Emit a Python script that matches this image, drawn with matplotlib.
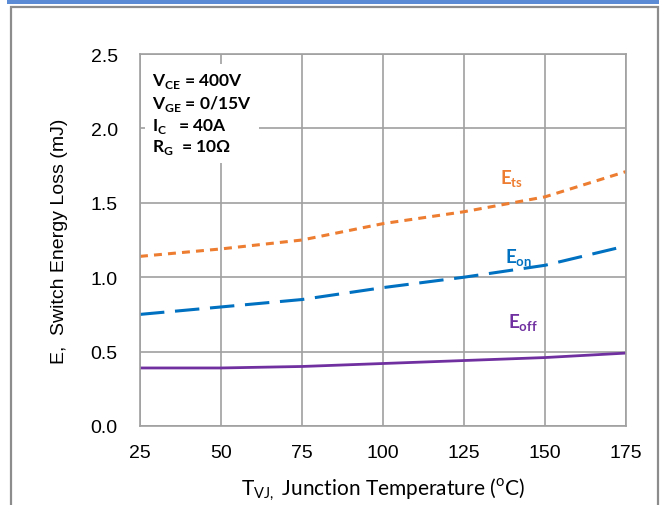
import matplotlib.pyplot as plt
from matplotlib.patches import Rectangle

temps = [25, 50, 75, 100, 125, 150, 175]
e_ts = [1.14, 1.19, 1.25, 1.36, 1.44, 1.54, 1.71]
e_on = [0.75, 0.80, 0.85, 0.93, 1.00, 1.08, 1.21]
e_off = [0.39, 0.39, 0.40, 0.42, 0.44, 0.46, 0.49]

x_ticks = [25, 50, 75, 100, 125, 150, 175]
y_ticks = [0.0, 0.5, 1.0, 1.5, 2.0, 2.5]

plt.rcParams['font.family'] = ['Liberation Sans', 'DejaVu Sans']
plt.rcParams['mathtext.fontset'] = 'custom'
plt.rcParams['mathtext.rm'] = 'Lato'
plt.rcParams['mathtext.bf'] = 'Lato:bold'

fig = plt.figure(figsize=(6.62, 5.06), dpi=100)
ax = fig.add_axes([140 / 662, 79 / 506, 486 / 662, 372 / 506])

# frame around the figure and the blue bar on top
fig.patches.append(Rectangle((11 / 662, -0.01), 647 / 662, 1 - 8 / 506 + 0.01,
                             transform=fig.transFigure, fill=False,
                             edgecolor='#8c8c8c', linewidth=1.6))
fig.patches.append(Rectangle((7 / 662, 1 - 5 / 506), 652 / 662, 5 / 506,
                             transform=fig.transFigure, facecolor='#5b8bd5',
                             edgecolor='none'))

ax.plot(temps, e_ts, color='#ED7D31', linewidth=2.2, dashes=(2.6, 2.0))
ax.plot(temps, e_on, color='#0070C0', linewidth=2.2, dashes=(8, 3.5))
ax.plot(temps, e_off, color='#7030A0', linewidth=2.0)

ax.set_xlim(25, 175)
ax.set_ylim(0, 2.5)
ax.set_xticks(x_ticks)
ax.set_yticks(y_ticks)
ax.set_yticklabels([f'{v:.1f}' for v in y_ticks])
ax.grid(True, color='#a0a0a0', linewidth=1.2)
ax.set_axisbelow(True)
for s in ax.spines.values():
    s.set_color('#a0a0a0')
    s.set_linewidth(1.2)
ax.tick_params(length=0, labelsize=14)
ax.tick_params(axis='y', pad=16)
ax.tick_params(axis='x', pad=13)

ax.set_xlabel(r'T$_{\mathregular{VJ,}}$ Junction Temperature ($^{\mathregular{o}}$C)',
              fontsize=15, family=['Lato', 'DejaVu Sans'])
ax.xaxis.set_label_coords(0.5, -0.132)
ax.set_ylabel('E,  Switch Energy Loss (mJ)', fontsize=14)
ax.yaxis.set_label_coords(-0.148, 0.5)

box_txt = [r'V$_{\mathbf{CE}}$ = 400V', r'V$_{\mathbf{GE}}$ = 0/15V',
           r'I$_{\mathbf{C}}$   = 40A', r'R$_{\mathbf{G}}$  = 10Ω']
ax.text(0.025, 0.955, '\n'.join(box_txt), transform=ax.transAxes, va='top', ha='left',
        fontsize=12.5, fontweight='bold', family=['Lato', 'DejaVu Sans'], linespacing=1.2,
        bbox=dict(facecolor='white', edgecolor='none', pad=5))

ax.text(136, 1.63, r'E$_{\mathbf{ts}}$', color='#ED7D31', fontsize=13.5,
        fontweight='bold', family=['Lato', 'DejaVu Sans'])
ax.text(137.5, 1.10, r'E$_{\mathbf{on}}$', color='#0070C0', fontsize=13.5,
        fontweight='bold', family=['Lato', 'DejaVu Sans'])
ax.text(138.5, 0.66, r'E$_{\mathbf{off}}$', color='#7030A0', fontsize=13.5,
        fontweight='bold', family=['Lato', 'DejaVu Sans'])

fig.savefig('out.png', dpi=100)
